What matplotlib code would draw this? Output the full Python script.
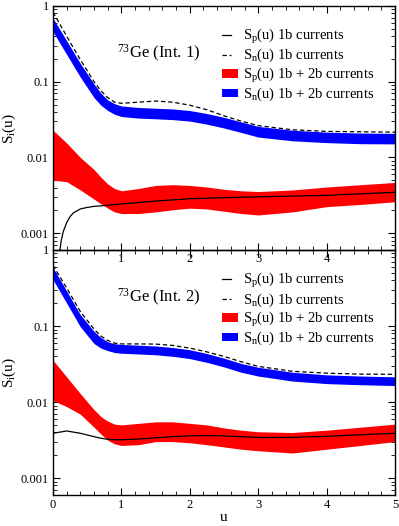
import numpy as np
import matplotlib
matplotlib.use("Agg")
import matplotlib.pyplot as plt
from matplotlib.legend_handler import HandlerLine2D
from matplotlib.ticker import FixedLocator, LogLocator, NullFormatter, FixedFormatter

plt.rcParams['font.family'] = ['Liberation Serif', 'DejaVu Serif']
plt.rcParams['mathtext.fontset'] = 'custom'
plt.rcParams['mathtext.rm'] = 'Liberation Serif'
plt.rcParams['mathtext.it'] = 'Liberation Serif:italic'

# ---------------- data ----------------
u = [0, 0.2, 0.4, 0.6, 0.7, 0.8, 0.9, 1.0, 1.25, 1.5, 1.75, 2.0, 2.25, 2.5, 2.75, 3.0, 3.5, 4.0, 4.5, 5.0]

# Panel 1: 73Ge (Int. 1)
int1_sn_band_hi = [0.692, 0.347, 0.174, 0.0933, 0.0708, 0.0575, 0.0513, 0.0479, 0.0457, 0.0447,
                   0.0437, 0.0417, 0.0380, 0.0339, 0.0295, 0.0257, 0.0229, 0.0216, 0.0210, 0.0208]
int1_sn_band_lo = [0.457, 0.229, 0.115, 0.0617, 0.0490, 0.0417, 0.0372, 0.0347, 0.0331, 0.0324,
                   0.0316, 0.0302, 0.0275, 0.0245, 0.0214, 0.0186, 0.0166, 0.0157, 0.0152, 0.0151]
int1_sn_1b = [0.832, 0.398, 0.195, 0.100, 0.0759, 0.0617, 0.0537, 0.0519, 0.0537, 0.0556,
              0.0537, 0.0490, 0.0427, 0.0355, 0.0302, 0.0263, 0.0232, 0.0221, 0.0218, 0.0216]
int1_sp_band_hi = [0.0229, 0.0155, 0.0100, 0.00692, 0.00550, 0.00447, 0.00389, 0.00363, 0.00389, 0.00427,
                   0.00437, 0.00427, 0.00407, 0.00380, 0.00363, 0.00355, 0.00372, 0.00407, 0.00437, 0.00468]
int1_sp_band_lo = [0.00501, 0.00479, 0.00372, 0.00282, 0.00245, 0.00214, 0.00191, 0.00182, 0.00182, 0.00191,
                   0.00204, 0.00214, 0.00209, 0.00195, 0.00182, 0.00174, 0.00191, 0.00224, 0.00240, 0.00260]
int1_sp_1b_u = [0.09, 0.12, 0.15, 0.2, 0.25, 0.3, 0.4, 0.5, 0.6, 0.8, 1.0, 1.5, 2.0, 2.5, 3.0, 3.5, 4.0, 4.5, 5.0]
int1_sp_1b = [0.000501, 0.000794, 0.00105, 0.00138, 0.00166, 0.00186, 0.00209, 0.00219, 0.00226, 0.00234,
              0.00243, 0.00266, 0.00285, 0.00295, 0.00302, 0.00309, 0.00316, 0.00331, 0.00347]

# Panel 2: 73Ge (Int. 2)
int2_sn_band_hi = [0.589, 0.288, 0.141, 0.0851, 0.0708, 0.0621, 0.0586, 0.0573, 0.0560, 0.0547,
                   0.0522, 0.0488, 0.0435, 0.0378, 0.0322, 0.0287, 0.0247, 0.0228, 0.0220, 0.0215]
int2_sn_band_lo = [0.407, 0.200, 0.0977, 0.0589, 0.0513, 0.0475, 0.0449, 0.0439, 0.0429, 0.0419,
                   0.0400, 0.0373, 0.0333, 0.0290, 0.0247, 0.0220, 0.0189, 0.0175, 0.0169, 0.0165]
int2_sn_1b = [0.631, 0.316, 0.155, 0.0912, 0.0741, 0.0646, 0.0596, 0.0582, 0.0582, 0.0579,
              0.0556, 0.0513, 0.0457, 0.0398, 0.0339, 0.0295, 0.0254, 0.0240, 0.0233, 0.0232]
int2_sp_band_hi = [0.0355, 0.0214, 0.0129, 0.00794, 0.00646, 0.00562, 0.00513, 0.00501, 0.00525, 0.00550,
                   0.00550, 0.00525, 0.00501, 0.00457, 0.00427, 0.00407, 0.00398, 0.00427, 0.00468, 0.00513]
int2_sp_band_lo = [0.0105, 0.00871, 0.00692, 0.00468, 0.00380, 0.00316, 0.00282, 0.00269, 0.00275, 0.00302,
                   0.00302, 0.00292, 0.00275, 0.00257, 0.00240, 0.00229, 0.00214, 0.00240, 0.00269, 0.00302]
int2_sp_1b = [0.00389, 0.00417, 0.00389, 0.00351, 0.00335, 0.00324, 0.00320, 0.00320, 0.00327, 0.00339,
              0.00351, 0.00359, 0.00363, 0.00359, 0.00351, 0.00343, 0.00343, 0.00355, 0.00372, 0.00389]

labels = ['S$_\\mathrm{p}$(u) 1b currents', 'S$_\\mathrm{n}$(u) 1b currents',
          'S$_\\mathrm{p}$(u) 1b + 2b currents', 'S$_\\mathrm{n}$(u) 1b + 2b currents']
titles = ['$^{73}$Ge (Int. 1)', '$^{73}$Ge (Int. 2)']
xticks = [0, 1, 2, 3, 4, 5]
yticks = [0.001, 0.01, 0.1, 1]
ytick_labels = ['0.001', '0.01', '0.1', '1']


class ShortLine(HandlerLine2D):
    def get_xdata(self, legend, xdescent, ydescent, width, height, fontsize):
        x0 = -xdescent
        xd = np.array([x0, x0 + width * 0.55])
        return xd, xd


W, H = 399, 526
fig = plt.figure(figsize=(W / 100, H / 100), dpi=100)
left, right = 53 / W, 395 / W
ax1 = fig.add_axes([left, 1 - 250 / H, right - left, 244 / H])
ax2 = fig.add_axes([left, 1 - 495 / H, right - left, 245 / H])

panels = [
    (ax1, int1_sn_band_lo, int1_sn_band_hi, int1_sn_1b, int1_sp_band_lo, int1_sp_band_hi, int1_sp_1b_u, int1_sp_1b),
    (ax2, int2_sn_band_lo, int2_sn_band_hi, int2_sn_1b, int2_sp_band_lo, int2_sp_band_hi, u, int2_sp_1b),
]

for i, (ax, snlo, snhi, sn1, splo, sphi, spu, sp1) in enumerate(panels):
    ax.set_yscale('log')
    ax.set_xlim(0, 5)
    ax.set_ylim(0.0006, 1)
    f_sp = ax.fill_between(u, splo, sphi, color='#ff0000', lw=0, zorder=2)
    f_sn = ax.fill_between(u, snlo, snhi, color='#0000ff', lw=0, zorder=2)
    l_sp, = ax.plot(spu, sp1, color='black', lw=0.9, zorder=3)
    l_sn, = ax.plot(u, sn1, color='black', lw=0.9, dashes=(3.5, 2.2), zorder=3)
    ax.legend([l_sp, l_sn, f_sp, f_sn], labels, loc='upper left',
              bbox_to_anchor=(0.494, 0.914), frameon=False, fontsize=10.5,
              borderpad=0, borderaxespad=0, handlelength=1.1, handleheight=0.5,
              handletextpad=0.35, labelspacing=0.08,
              handler_map={l_sp: ShortLine(), l_sn: ShortLine()})
    ax.text(0.187, 0.807, titles[i], transform=ax.transAxes, fontsize=12,
            ha='left', va='center')
    ax.set_ylabel('S$_\\mathrm{i}$(u)', fontsize=11)
    ax.yaxis.set_label_coords(-0.128, 0.5)
    ax.yaxis.label.set_va('center')

    ax.xaxis.set_major_locator(FixedLocator(xticks))
    ax.xaxis.set_minor_locator(FixedLocator(np.arange(0, 5.01, 0.2)))
    ax.yaxis.set_major_locator(FixedLocator(yticks))
    ax.yaxis.set_minor_locator(LogLocator(base=10, subs=np.arange(2, 10), numticks=20))
    ax.yaxis.set_minor_formatter(NullFormatter())
    ax.yaxis.set_major_formatter(FixedFormatter(ytick_labels))
    ax.tick_params(which='both', direction='in', top=True, right=True, labelsize=9, colors='black')
    ax.tick_params(which='major', length=5, width=0.8, pad=3)
    ax.tick_params(which='minor', length=3, width=0.6)
    for s in ax.spines.values():
        s.set_linewidth(1.0)

ax1.xaxis.set_major_formatter(FixedFormatter(['', '1', '2', '3', '4', '']))
ax1.tick_params(axis='x', pad=2)
ax2.xaxis.set_major_formatter(FixedFormatter(['0', '1', '2', '3', '4', '5']))
ax2.set_xlabel('u', fontsize=11)
ax2.xaxis.set_label_coords(0.5, -0.093)
ax2.xaxis.label.set_va('center')
ax1.set_zorder(3)
ax1.patch.set_alpha(0)

fig.savefig('out.png', dpi=100)
